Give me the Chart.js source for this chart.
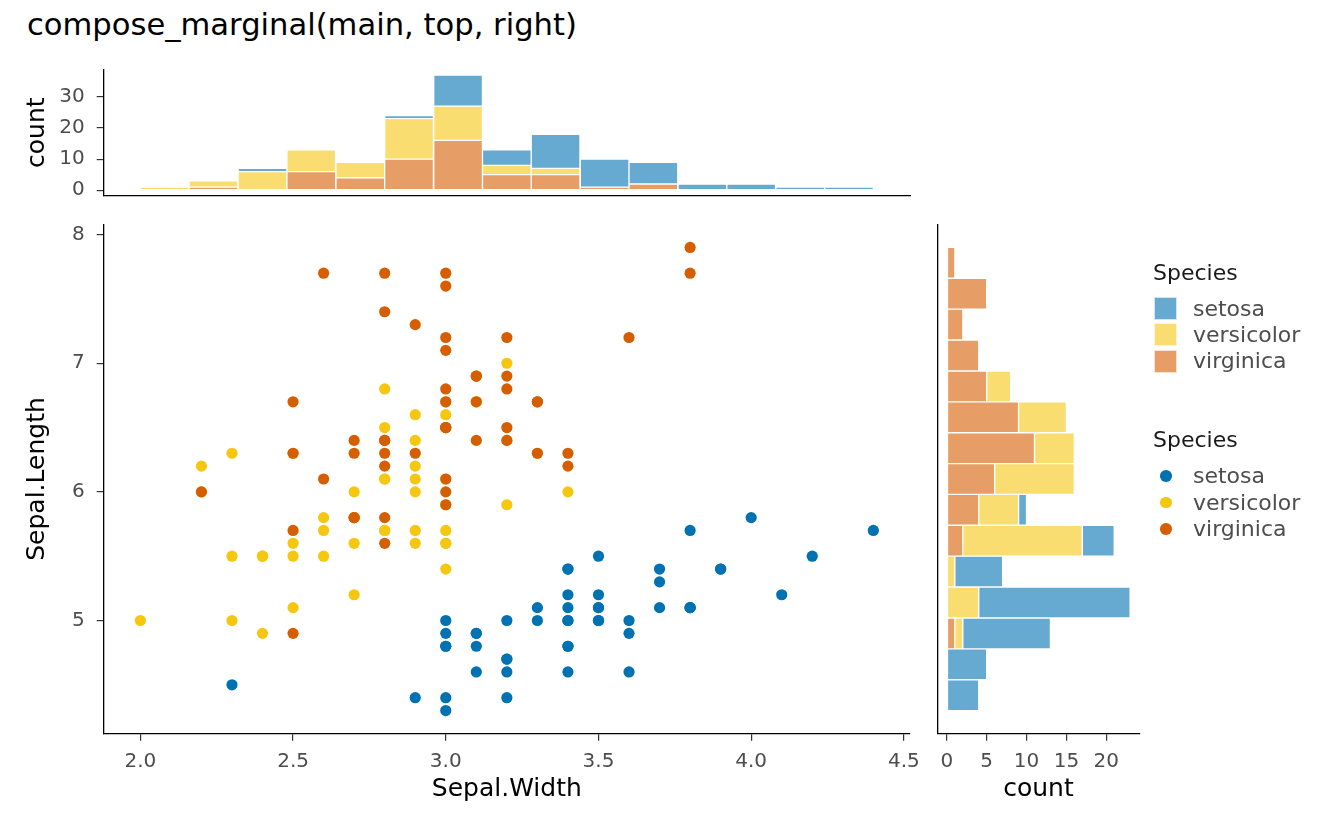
<!DOCTYPE html>
<html lang="en">
<head>
<meta charset="UTF-8">
<title>compose_marginal(main, top, right)</title>
<script src="https://cdn.jsdelivr.net/npm/chart.js"></script>
<style>
    body { margin: 0; background: #fff; font-family: "DejaVu Sans", sans-serif; }
    .pagina { position: relative; width: 1344px; height: 830px; overflow: hidden; }
    .pagina canvas { position: absolute; }
    #titulo { position: absolute; left: 27px; top: 10px; font-size: 30.6px; line-height: 30px; color: #000; white-space: nowrap; }
    .leg-titulo { position: absolute; left: 1153px; font-size: 22px; line-height: 26px; color: #1a1a1a; }
    .leg-texto { position: absolute; left: 1193px; font-size: 22px; line-height: 26px; color: #4d4d4d; white-space: nowrap; }
    .leg-chave { position: absolute; left: 1154px; width: 23px; height: 23px; box-sizing: border-box; border: 1px solid rgba(255,255,255,0.7); }
    .leg-ponto { position: absolute; width: 11.5px; height: 11.5px; border-radius: 50%; }
</style>
</head>
<body>
<div class="pagina" id="pagina">
    <div id="titulo">compose_marginal(main, top, right)</div>
    <canvas id="topo" width="940" height="180" style="left:0px; top:40px;"></canvas>
    <canvas id="principal" width="940" height="630" style="left:0px; top:200px;"></canvas>
    <canvas id="direita" width="250" height="630" style="left:930px; top:200px;"></canvas>
</div>

<script>
// iris, por especie
const species = ['setosa', 'versicolor', 'virginica'];

const setosaWidth = [3.5,3.0,3.2,3.1,3.6,3.9,3.4,3.4,2.9,3.1,3.7,3.4,3.0,3.0,4.0,4.4,3.9,3.5,3.8,3.8,3.4,3.7,3.6,3.3,3.4,3.0,3.4,3.5,3.4,3.2,3.1,3.4,4.1,4.2,3.1,3.2,3.5,3.6,3.0,3.4,3.5,2.3,3.2,3.5,3.8,3.0,3.8,3.2,3.7,3.3];
const setosaLength = [5.1,4.9,4.7,4.6,5.0,5.4,4.6,5.0,4.4,4.9,5.4,4.8,4.8,4.3,5.8,5.7,5.4,5.1,5.7,5.1,5.4,5.1,4.6,5.1,4.8,5.0,5.0,5.2,5.2,4.7,4.8,5.4,5.2,5.5,4.9,5.0,5.5,4.9,4.4,5.1,5.0,4.5,4.4,5.0,5.1,4.8,5.1,4.6,5.3,5.0];
const versicolorWidth = [3.2,3.2,3.1,2.3,2.8,2.8,3.3,2.4,2.9,2.7,2.0,3.0,2.2,2.9,2.9,3.1,3.0,2.7,2.2,2.5,3.2,2.8,2.5,2.8,2.9,3.0,2.8,3.0,2.9,2.6,2.4,2.4,2.7,2.7,3.0,3.4,3.1,2.3,3.0,2.5,2.6,3.0,2.6,2.3,2.7,3.0,2.9,2.9,2.5,2.8];
const versicolorLength = [7.0,6.4,6.9,5.5,6.5,5.7,6.3,4.9,6.6,5.2,5.0,5.9,6.0,6.1,5.6,6.7,5.6,5.8,6.2,5.6,5.9,6.1,6.3,6.1,6.4,6.6,6.8,6.7,6.0,5.7,5.5,5.5,5.8,6.0,5.4,6.0,6.7,6.3,5.6,5.5,5.5,6.1,5.8,5.0,5.6,5.7,5.7,6.2,5.1,5.7];
const virginicaWidth = [3.3,2.7,3.0,2.9,3.0,3.0,2.5,2.9,2.5,3.6,3.2,2.7,3.0,2.5,2.8,3.2,3.0,3.8,2.6,2.2,3.2,2.8,2.8,2.7,3.3,3.2,2.8,3.0,2.8,3.0,2.8,3.8,2.8,2.8,2.6,3.0,3.4,3.1,3.0,3.1,3.1,3.1,2.7,3.2,3.3,3.0,2.5,3.0,3.4,3.0];
const virginicaLength = [6.3,5.8,7.1,6.3,6.5,7.6,4.9,7.3,6.7,7.2,6.5,6.4,6.8,5.7,5.8,6.4,6.5,7.7,7.7,6.0,6.9,5.6,7.7,6.3,6.7,7.2,6.2,6.1,6.4,7.2,7.4,7.9,6.4,6.3,6.1,7.7,6.3,6.4,6.0,6.9,6.7,6.9,5.8,6.8,6.7,6.7,6.3,6.5,6.2,5.9];

// histograma de cima (Sepal.Width): centro das classes e contagens
const widthBins = [2.0, 2.171, 2.343, 2.514, 2.686, 2.857, 3.029, 3.2, 3.371, 3.543, 3.714, 3.886, 4.057, 4.229, 4.4];
const widthSetosa = [0, 0, 1, 0, 0, 1, 10, 5, 11, 9, 7, 2, 2, 1, 1];
const widthVersicolor = [1, 2, 6, 7, 5, 13, 11, 3, 2, 0, 0, 0, 0, 0, 0];
const widthVirginica = [0, 1, 0, 6, 4, 10, 16, 5, 5, 1, 2, 0, 0, 0, 0];

// histograma da direita (Sepal.Length)
const lengthBins = [4.3, 4.557, 4.814, 5.071, 5.329, 5.586, 5.843, 6.1, 6.357, 6.614, 6.871, 7.129, 7.386, 7.643, 7.9];
const lengthSetosa = [4, 5, 11, 19, 6, 4, 1, 0, 0, 0, 0, 0, 0, 0, 0];
const lengthVersicolor = [0, 0, 1, 4, 1, 15, 5, 10, 5, 6, 3, 0, 0, 0, 0];
const lengthVirginica = [0, 0, 1, 0, 0, 2, 4, 6, 11, 9, 5, 4, 2, 5, 1];

const widthTicks = [2.0, 2.5, 3.0, 3.5, 4.0, 4.5];
const lengthTicks = [5, 6, 7, 8];
const countTicksTop = [0, 10, 20, 30];
const countTicksRight = [0, 5, 10, 15, 20];

const corPonto = ['#0072B2', '#F5C710', '#D55E00'];
const corBarra = ['#66AAD1', '#F9DD70', '#E69E66'];

const fonteTick = { family: 'DejaVu Sans', size: 20 };
const fonteEixo = { family: 'DejaVu Sans', size: 25 };

function tamanho(valor, horizontal) {
    return function (s) {
        if (horizontal) s.height = valor; else s.width = valor;
    };
}

function fixarTicks(lista) {
    return function (s) { s.ticks = lista.map(v => ({ value: v })); };
}

function eixoBase() {
    return {
        type: 'linear',
        offset: false,
        border: { display: true, color: '#000', width: 1.3 },
        grid: { display: true, drawOnChartArea: false, drawTicks: true, tickLength: 7, color: '#333', lineWidth: 1.2 },
        ticks: { color: '#4d4d4d', font: fonteTick, maxRotation: 0, autoSkip: false, includeBounds: false }
    };
}

const semExtras = { legend: { display: false }, tooltip: { enabled: false } };

// ---------- dispersao principal ----------
const pontos = [
    setosaWidth.map((w, i) => ({ x: w, y: setosaLength[i] })),
    versicolorWidth.map((w, i) => ({ x: w, y: versicolorLength[i] })),
    virginicaWidth.map((w, i) => ({ x: w, y: virginicaLength[i] }))
];

const xPrincipal = eixoBase();
xPrincipal.min = 1.88;
xPrincipal.max = 4.52;
xPrincipal.afterFit = tamanho(96.3, true);
xPrincipal.afterBuildTicks = fixarTicks(widthTicks);
xPrincipal.ticks.padding = 9;
xPrincipal.ticks.callback = v => v.toFixed(1);
xPrincipal.title = { display: true, text: 'Sepal.Width', color: '#000', font: fonteEixo, padding: { top: 0, bottom: 26 } };

const yPrincipal = eixoBase();
yPrincipal.min = 4.12;
yPrincipal.max = 8.08;
yPrincipal.afterFit = tamanho(103.7, false);
yPrincipal.afterBuildTicks = fixarTicks(lengthTicks);
yPrincipal.ticks.padding = 12;
yPrincipal.title = { display: true, text: 'Sepal.Length', color: '#000', font: fonteEixo, padding: { top: 22, bottom: 0 } };

new Chart(document.getElementById('principal'), {
    type: 'scatter',
    data: {
        datasets: species.map((nome, i) => ({
            label: nome,
            data: pontos[i],
            backgroundColor: corPonto[i],
            borderWidth: 0,
            pointRadius: 5.6,
            pointHoverRadius: 5.6,
            order: 2 - i
        }))
    },
    options: {
        responsive: false,
        animation: false,
        layout: { padding: { top: 24.3, right: 30, bottom: 0, left: 0 } },
        plugins: semExtras,
        scales: { x: xPrincipal, y: yPrincipal }
    }
});

// ---------- histograma de cima ----------
const contagensTopo = [widthVirginica, widthVersicolor, widthSetosa];
const corTopo = [corBarra[2], corBarra[1], corBarra[0]];

const xTopo = eixoBase();
xTopo.min = 1.786;
xTopo.max = 4.614;
xTopo.stacked = true;
xTopo.grid = { display: false };
xTopo.ticks = { display: false };
xTopo.afterBuildTicks = s => { s.ticks = []; };
xTopo.afterFit = tamanho(23.7, true);

const yTopo = eixoBase();
yTopo.min = -1.85;
yTopo.max = 38.85;
yTopo.stacked = true;
yTopo.afterFit = tamanho(103.7, false);
yTopo.afterBuildTicks = fixarTicks(countTicksTop);
yTopo.ticks.padding = 12;
yTopo.title = { display: true, text: 'count', color: '#000', font: fonteEixo, padding: { top: 22, bottom: 0 } };

new Chart(document.getElementById('topo'), {
    type: 'bar',
    data: {
        datasets: contagensTopo.map((lista, i) => ({
            label: species[2 - i],
            data: widthBins.map((b, k) => ({ x: b, y: lista[k] })),
            backgroundColor: corTopo[i],
            borderColor: '#fff',
            borderWidth: 1,
            borderSkipped: false,
            barPercentage: 1,
            categoryPercentage: 1
        }))
    },
    options: {
        responsive: false,
        animation: false,
        layout: { padding: { top: 29.3, right: 30, bottom: 0, left: 0 } },
        plugins: semExtras,
        scales: { x: xTopo, y: yTopo }
    }
});

// ---------- histograma da direita ----------
const contagensDireita = [lengthVirginica, lengthVersicolor, lengthSetosa];

const xDireita = eixoBase();
xDireita.min = -1.15;
xDireita.max = 24.15;
xDireita.stacked = true;
xDireita.afterFit = tamanho(96.3, true);
xDireita.afterBuildTicks = fixarTicks(countTicksRight);
xDireita.ticks.padding = 9;
xDireita.title = { display: true, text: 'count', color: '#000', font: fonteEixo, padding: { top: 0, bottom: 26 } };

const yDireita = eixoBase();
yDireita.min = 3.979;
yDireita.max = 8.221;
yDireita.stacked = true;
yDireita.grid = { display: false };
yDireita.ticks = { display: false };
yDireita.afterBuildTicks = s => { s.ticks = []; };
yDireita.afterFit = tamanho(0, false);

new Chart(document.getElementById('direita'), {
    type: 'bar',
    data: {
        datasets: contagensDireita.map((lista, i) => ({
            label: species[2 - i],
            data: lengthBins.map((b, k) => ({ x: lista[k], y: b })),
            backgroundColor: corTopo[i],
            borderColor: '#fff',
            borderWidth: 1,
            borderSkipped: false,
            barPercentage: 1,
            categoryPercentage: 1
        }))
    },
    options: {
        indexAxis: 'y',
        responsive: false,
        animation: false,
        layout: { padding: { top: 24.3, right: 40.7, bottom: 0, left: 7.7 } },
        plugins: semExtras,
        scales: { x: xDireita, y: yDireita }
    }
});

// ---------- legendas ----------
const pagina = document.getElementById('pagina');

function addDiv(classe, texto, estilo) {
    const d = document.createElement('div');
    d.className = classe;
    if (texto) d.textContent = texto;
    Object.assign(d.style, estilo);
    pagina.appendChild(d);
}

addDiv('leg-titulo', 'Species', { top: '260px' });
species.forEach((nome, i) => {
    const meio = 308.5 + i * 26.3;
    addDiv('leg-chave', '', { top: (meio - 11.5) + 'px', background: corBarra[i] });
    addDiv('leg-texto', nome, { top: (meio - 13) + 'px' });
});

addDiv('leg-titulo', 'Species', { top: '427px' });
species.forEach((nome, i) => {
    const meio = 476 + i * 26.5;
    addDiv('leg-ponto', '', { top: (meio - 5.75) + 'px', left: (1166 - 5.75) + 'px', background: corPonto[i] });
    addDiv('leg-texto', nome, { top: (meio - 13) + 'px' });
});
</script>
</body>
</html>
